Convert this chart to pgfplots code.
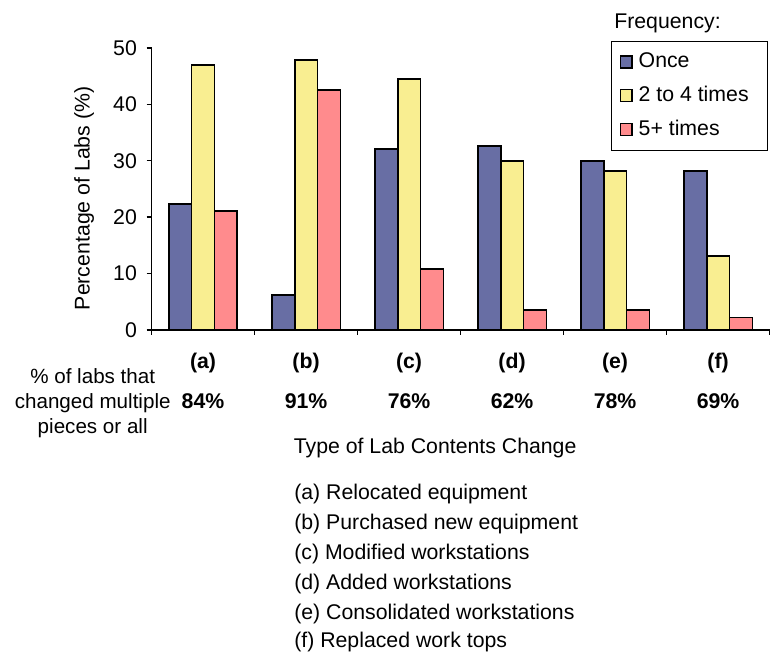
\documentclass[border=0pt]{standalone}
\usepackage{fontspec}
\setmainfont{Liberation Sans}
\usepackage{pgfplots}
\pgfplotsset{compat=1.18}

\definecolor{once}{RGB}{104,110,164}
\definecolor{twofour}{RGB}{249,238,145}
\definecolor{fiveplus}{RGB}{255,139,141}
\newcommand\fs{\fontsize{16pt}{19.2pt}\selectfont}
\newcommand\fss{\fontsize{15.5pt}{18.6pt}\selectfont}

\pgfplotsset{sqleg/.style={legend image code/.code={%
  \draw[##1, line width=0.9pt] (0pt,-4.5pt) rectangle (9pt,4.5pt);
  \path[draw=none, fill=none] (0pt,0pt) rectangle (12pt,0.1pt);}}}

\begin{document}
\begin{tikzpicture}[font=\fs]
\begin{axis}[
  at={(114pt,-248.25pt)}, anchor=south west,
  scale only axis, width=465pt, height=212.25pt,
  xmin=-0.5, xmax=5.5, ymin=0, ymax=50,
  axis lines*=left,
  axis line style={line width=1.2pt},
  clip=false,
  ybar=0pt, bar width=0.2226,
  xtick={-0.5,0.5,...,5.5}, xticklabels={},
  extra x ticks={0,...,5},
  extra x tick labels={(a),(b),(c),(d),(e),(f)},
  extra x tick style={major tick length=0pt,
    xticklabel style={anchor=base, yshift=-29.25pt, font=\fs\bfseries}},
  ytick={0,10,...,50},
  yticklabel style={xshift=-3.75pt},
  tick align=outside, major tick length=3.75pt,
  tick style={black, line width=1pt},
  /pgf/number format/assume math mode=true,
  tick label style={font=\fs},
  legend style={at={(axis description cs:0.7435,1.0247)}, anchor=north west,
    draw=black, line width=0.75pt, inner xsep=6pt, inner ysep=8pt,
    row sep=10.5pt, font=\fs,
    nodes={text height=11.5pt, text depth=3.5pt, inner ysep=0pt}},
  legend cell align=left,
]
\addplot[sqleg, fill=once, draw=black, line width=1.4pt]
  coordinates {(0,22.3) (1,6.2) (2,32.0) (3,32.6) (4,29.9) (5,28.2)};
\addplot[sqleg, fill=twofour, draw=black, line width=1.4pt]
  coordinates {(0,46.9) (1,47.9) (2,44.5) (3,29.9) (4,28.2) (5,13.1)};
\addplot[sqleg, fill=fiveplus, draw=black, line width=1.4pt]
  coordinates {(0,21.1) (1,42.5) (2,10.8) (3,3.6) (4,3.6) (5,2.2)};
\addlegendentry{\makebox[89pt][l]{Once}}
\addlegendentry{\makebox[89pt][l]{2 to 4 times}}
\addlegendentry{\makebox[89pt][l]{5+ times}}

\node[anchor=base, font=\fs\bfseries, yshift=-59.25pt] at (axis cs:0,0) {84\%};
\node[anchor=base, font=\fs\bfseries, yshift=-59.25pt] at (axis cs:1,0) {91\%};
\node[anchor=base, font=\fs\bfseries, yshift=-59.25pt] at (axis cs:2,0) {76\%};
\node[anchor=base, font=\fs\bfseries, yshift=-59.25pt] at (axis cs:3,0) {62\%};
\node[anchor=base, font=\fs\bfseries, yshift=-59.25pt] at (axis cs:4,0) {78\%};
\node[anchor=base, font=\fs\bfseries, yshift=-59.25pt] at (axis cs:5,0) {69\%};
\end{axis}

\begin{scope}[x=0.75pt, y=-0.75pt]
\path (0,0) rectangle (774,652);
\node[anchor=base west, inner sep=0pt] at (616,29) {Frequency:};
\node[rotate=90, anchor=base, inner sep=0pt] at (90,199) {Percentage of Labs (\%)};
\node[anchor=base, inner sep=0pt, font=\fss] at (93,385) {\% of labs that};
\node[anchor=base, inner sep=0pt, font=\fss] at (93,410) {changed multiple};
\node[anchor=base, inner sep=0pt, font=\fss] at (93,435) {pieces or all};
\node[anchor=base, inner sep=0pt] at (436.5,455) {Type of Lab Contents Change};
\node[anchor=base west, inner sep=0pt] at (295,501) {(a) Relocated equipment};
\node[anchor=base west, inner sep=0pt] at (295,531) {(b) Purchased new equipment};
\node[anchor=base west, inner sep=0pt] at (295,561) {(c) Modified workstations};
\node[anchor=base west, inner sep=0pt] at (295,591) {(d) Added workstations};
\node[anchor=base west, inner sep=0pt] at (295,621) {(e) Consolidated workstations};
\node[anchor=base west, inner sep=0pt] at (295,650) {(f) Replaced work tops};
\end{scope}
\end{tikzpicture}
\end{document}
